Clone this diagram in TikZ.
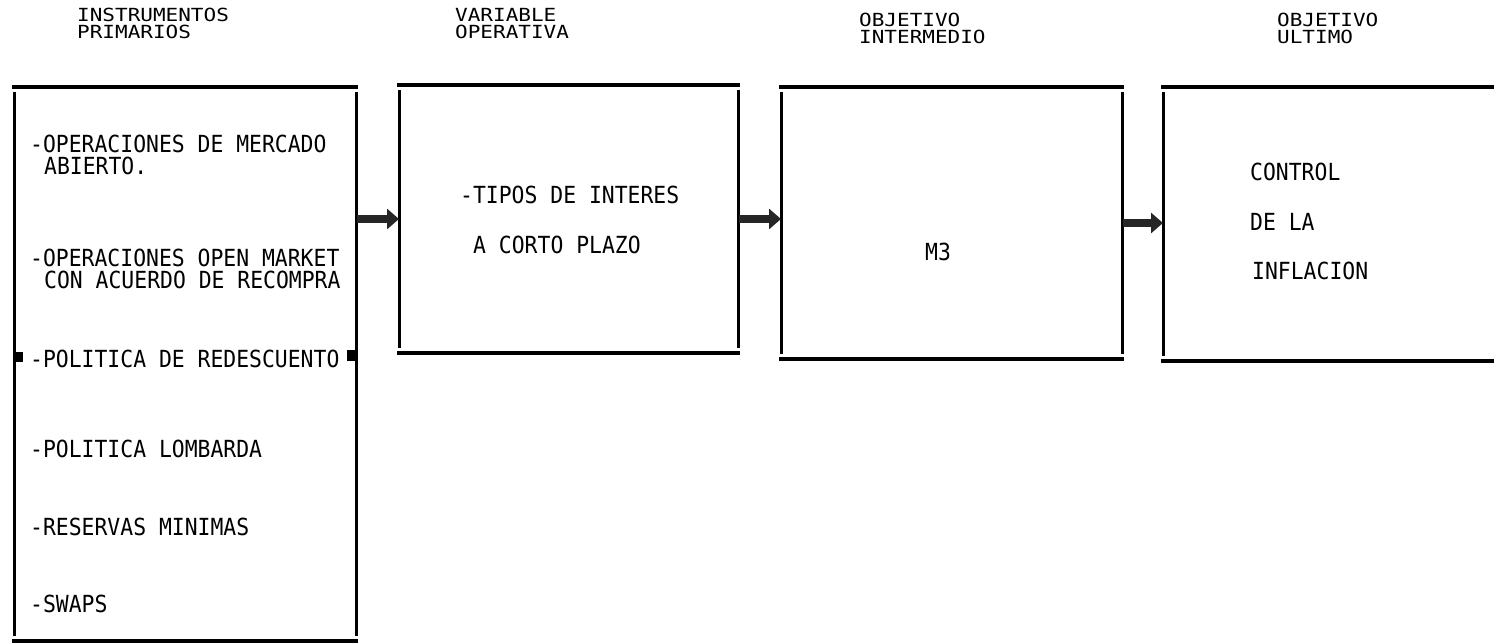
\documentclass[tikz,border=0pt]{standalone}
\usepackage{fontspec}
\setmonofont{DejaVu Sans Mono}
\usetikzlibrary{arrows.meta}
\newcommand\bodyt[1]{\scalebox{1}[1.1]{#1}}
\newcommand\titlet[1]{\scalebox{1}[0.86]{#1}}
\tikzset{
  boxarea/.style={draw=none, inner sep=0pt, outer sep=0pt},
  hline/.style={line width=4pt},
  vline/.style={line width=3pt},
  txt/.style={anchor=base west, inner sep=0pt, font=\ttfamily\fontsize{21.4}{21.4}\selectfont},
  ttl/.style={anchor=base west, inner sep=0pt, font=\ttfamily\fontsize{21}{21}\selectfont},
  conn/.style={line width=8pt, black!85, -{Triangle[length=12pt,width=20pt]}, shorten <=1pt}
}
\begin{document}
\begin{tikzpicture}[x=1pt,y=-1pt]
\useasboundingbox (0,0) rectangle (1494,644);
% box areas
\node[boxarea, minimum width=346pt, minimum height=554pt] (b1) at (185,364) {};
\node[boxarea, minimum width=343pt, minimum height=268pt] (b2) at (568.5,219) {};
\node[boxarea, minimum width=345pt, minimum height=272pt] (b3) at (951.5,223) {};
\node[boxarea, minimum width=339pt, minimum height=274pt] (b4) at (1330.5,224) {};
% box outlines
\foreach \b in {b1,b2,b3}{
  \draw[hline] (\b.north west) -- (\b.north east);
  \draw[hline] (\b.south west) -- (\b.south east);
  \draw[vline] ([xshift=2pt,yshift=-5pt]\b.north west) -- ([xshift=2pt,yshift=5pt]\b.south west);
  \draw[vline] ([xshift=-2pt,yshift=-5pt]\b.north east) -- ([xshift=-2pt,yshift=5pt]\b.south east);
}
\draw[hline] (b4.north west) -- (b4.north east);
\draw[hline] (b4.south west) -- (b4.south east);
\draw[vline] ([xshift=2pt,yshift=-5pt]b4.north west) -- ([xshift=2pt,yshift=5pt]b4.south west);
% small marks on box 1
\fill ([xshift=3pt]b1.west |- 0,352) rectangle ++(8,10);
\fill ([xshift=-3pt]b1.east |- 0,350) rectangle ++(-8,11);
% connectors
\draw[conn] ([xshift=-2pt]b2.west -| b1.east) -- ([xshift=2pt]b2.west);
\draw[conn] ([xshift=-2pt]b2.east) -- ([xshift=2pt]b2.east -| b3.west);
\draw[conn] ([xshift=-2pt]b3.east) -- ([xshift=2pt]b3.east -| b4.west);
% titles
\node[ttl] (t1a) at (77,22) {\titlet{INSTRUMENTOS}};
\node[ttl] (t1b) at (77,39) {\titlet{PRIMARIOS}};
\node[ttl] (t2a) at (455,22) {\titlet{VARIABLE}};
\node[ttl] (t2b) at (455,39) {\titlet{OPERATIVA}};
\node[ttl] (t3a) at (859,27) {\titlet{OBJETIVO}};
\node[ttl] (t3b) at (859,44) {\titlet{INTERMEDIO}};
\node[ttl] (t4a) at (1277,27) {\titlet{OBJETIVO}};
\node[ttl] (t4b) at (1277,44) {\titlet{ULTIMO}};
% box 1 text
\node[txt] (i1a) at (30,153) {\bodyt{-OPERACIONES DE MERCADO}};
\node[txt] (i1b) at (44,175) {\bodyt{ABIERTO.}};
\node[txt] (i2a) at (30,267) {\bodyt{-OPERACIONES OPEN MARKET}};
\node[txt] (i2b) at (44,289) {\bodyt{CON ACUERDO DE RECOMPRA}};
\node[txt] (i3) at (30,367) {\bodyt{-POLITICA DE REDESCUENTO}};
\node[txt] (i4) at (30,457) {\bodyt{-POLITICA LOMBARDA}};
\node[txt] (i5) at (30,535) {\bodyt{-RESERVAS MINIMAS}};
\node[txt] (i6) at (30,612) {\bodyt{-SWAPS}};
% box 2 text
\node[txt] (v1) at (460,204) {\bodyt{-TIPOS DE INTERES}};
\node[txt] (v2) at (473,254) {\bodyt{A CORTO PLAZO}};
% box 3 text
\node[txt] (m3) at (925,261) {\bodyt{M3}};
% box 4 text
\node[txt] (c1) at (1250,181) {\bodyt{CONTROL}};
\node[txt] (c2) at (1250,231) {\bodyt{DE LA}};
\node[txt] (c3) at (1252,280) {\bodyt{INFLACION}};
\end{tikzpicture}
\end{document}
